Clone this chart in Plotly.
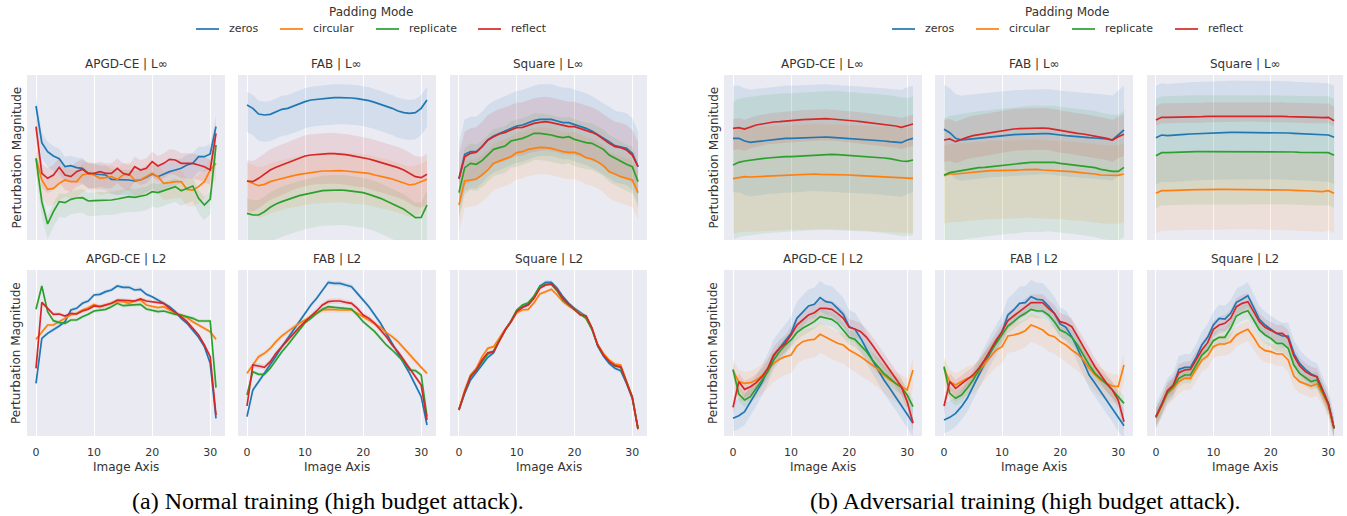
import plotly.graph_objects as go

W, H = 1347, 516

IMAGE_AXIS = list(range(32))
MODES = ["zeros", "circular", "replicate", "reflect"]
COLORS = ["#1f77b4", "#ff7f0e", "#2ca02c", "#d62728"]
FILLS = ["rgba(31,119,180,0.11)", "rgba(255,127,14,0.11)",
         "rgba(44,160,44,0.10)", "rgba(214,39,40,0.11)"]
X_TICKS = [0, 10, 20, 30]
ATTACKS = ["APGD-CE", "FAB", "Square"]
NORMS = ["L∞", "L2"]
CAPTIONS = ["(a) Normal training (high budget attack).",
            "(b) Adversarial training (high budget attack)."]

# ---------------- (a) Normal training ----------------
A_APGD_LINF_ZEROS = [402, 292, 265, 252, 244, 220, 223, 217, 215, 200, 198, 197, 195, 182, 182, 180, 180, 177, 180, 188, 198, 190, 198, 205, 210, 215, 225, 230, 250, 250, 258, 340]
A_APGD_LINF_CIRCULAR = [245, 180, 152, 155, 170, 180, 175, 175, 195, 200, 195, 185, 187, 190, 182, 195, 198, 180, 180, 190, 200, 190, 170, 172, 175, 175, 152, 150, 160, 175, 210, 230]
A_APGD_LINF_REPLICATE = [245, 115, 48, 85, 115, 112, 122, 126, 127, 117, 118, 118, 120, 120, 123, 126, 130, 128, 132, 135, 145, 142, 148, 155, 160, 148, 155, 162, 125, 105, 123, 285]
A_APGD_LINF_REFLECT = [340, 200, 185, 195, 218, 195, 190, 205, 212, 200, 200, 205, 200, 200, 215, 200, 195, 220, 210, 215, 235, 222, 230, 242, 240, 230, 230, 230, 225, 220, 210, 320]
A_APGD_LINF_BAND_UP = [30, 35, 25, 30]
A_APGD_LINF_BAND_DOWN = [45, 50, 45, 45]

A_FAB_LINF_ZEROS = [405, 395, 378, 375, 377, 385, 392, 395, 402, 407, 415, 420, 422, 424, 425, 427, 427, 427, 426, 424, 422, 418, 413, 407, 402, 395, 387, 382, 380, 382, 395, 420]
A_FAB_LINF_CIRCULAR = [177, 170, 163, 167, 175, 180, 185, 190, 193, 197, 200, 203, 205, 207, 207, 208, 208, 207, 205, 203, 202, 200, 195, 190, 187, 183, 177, 170, 165, 168, 175, 182]
A_FAB_LINF_REPLICATE = [80, 75, 75, 85, 98, 108, 115, 120, 127, 133, 137, 142, 145, 148, 149, 150, 150, 149, 147, 144, 142, 137, 132, 125, 117, 108, 100, 92, 80, 67, 68, 105]
A_FAB_LINF_REFLECT = [177, 175, 185, 198, 210, 218, 225, 233, 240, 247, 252, 255, 257, 258, 259, 259, 258, 256, 253, 250, 248, 243, 238, 233, 229, 223, 217, 210, 200, 190, 187, 197]
A_FAB_LINF_BAND_UP = [40, 55, 45, 62]
A_FAB_LINF_BAND_DOWN = [80, 95, 105, 90]

A_SQUARE_LINF_ZEROS = [185, 257, 265, 265, 280, 300, 312, 320, 327, 335, 342, 345, 352, 358, 362, 362, 362, 357, 352, 352, 347, 340, 335, 327, 317, 307, 295, 283, 280, 275, 260, 220]
A_SQUARE_LINF_CIRCULAR = [105, 177, 180, 183, 195, 210, 230, 237, 242, 250, 262, 265, 272, 275, 278, 277, 275, 270, 265, 263, 263, 257, 247, 243, 235, 223, 205, 198, 190, 185, 180, 142]
A_SQUARE_LINF_REPLICATE = [142, 217, 230, 227, 238, 255, 272, 277, 282, 297, 300, 305, 312, 320, 320, 318, 315, 310, 307, 310, 302, 297, 292, 290, 282, 272, 255, 245, 235, 227, 220, 175]
A_SQUARE_LINF_REFLECT = [183, 250, 260, 263, 280, 300, 310, 318, 323, 330, 337, 338, 345, 350, 353, 355, 352, 348, 342, 340, 340, 335, 330, 323, 315, 302, 290, 280, 277, 270, 255, 220]
A_SQUARE_LINF_BAND_UP = [105, 60, 60, 75]
A_SQUARE_LINF_BAND_DOWN = [110, 80, 80, 85]

A_APGD_L2_ZEROS = [158, 293, 308, 318, 330, 343, 378, 383, 398, 405, 423, 425, 433, 438, 450, 446, 446, 438, 440, 425, 418, 408, 398, 388, 373, 353, 338, 318, 296, 268, 218, 53]
A_APGD_L2_CIRCULAR = [290, 313, 333, 333, 343, 353, 363, 368, 378, 385, 395, 388, 393, 398, 403, 403, 398, 405, 408, 393, 390, 385, 388, 378, 368, 363, 355, 343, 333, 323, 313, 290]
A_APGD_L2_REPLICATE = [380, 450, 373, 346, 340, 338, 348, 348, 358, 365, 375, 378, 380, 388, 398, 391, 393, 393, 395, 381, 378, 373, 375, 370, 365, 363, 358, 353, 345, 345, 345, 145]
A_APGD_L2_REFLECT = [203, 401, 383, 365, 366, 360, 368, 366, 375, 380, 390, 388, 393, 398, 408, 406, 406, 405, 411, 405, 403, 400, 398, 383, 371, 358, 343, 323, 303, 273, 238, 63]
A_APGD_L2_BAND_UP = [6, 6, 6, 6]
A_APGD_L2_BAND_DOWN = [6, 6, 6, 6]

A_FAB_L2_ZEROS = [58, 138, 163, 188, 213, 240, 268, 293, 318, 343, 368, 393, 413, 438, 461, 458, 458, 453, 448, 428, 408, 388, 363, 338, 308, 278, 248, 218, 188, 153, 118, 33]
A_FAB_L2_CIRCULAR = [188, 213, 238, 248, 263, 283, 300, 313, 326, 338, 348, 358, 368, 378, 380, 378, 378, 378, 378, 368, 358, 348, 338, 326, 310, 298, 283, 263, 243, 223, 206, 188]
A_FAB_L2_REPLICATE = [123, 193, 185, 185, 203, 228, 253, 273, 296, 318, 340, 353, 368, 380, 388, 386, 385, 383, 381, 363, 343, 328, 313, 293, 273, 258, 240, 223, 198, 196, 183, 58]
A_FAB_L2_REFLECT = [90, 213, 210, 206, 223, 248, 268, 288, 308, 326, 343, 358, 375, 393, 403, 405, 405, 401, 398, 383, 363, 353, 338, 318, 298, 273, 253, 228, 203, 178, 153, 48]
A_FAB_L2_BAND_UP = [7, 8, 6, 8]
A_FAB_L2_BAND_DOWN = [7, 8, 6, 8]

A_SQUARE_L2_ZEROS = [78, 128, 168, 190, 213, 236, 250, 288, 318, 343, 373, 386, 396, 418, 450, 461, 461, 443, 418, 398, 383, 370, 358, 323, 270, 240, 218, 203, 196, 158, 113, 21]
A_SQUARE_L2_CIRCULAR = [80, 138, 183, 203, 238, 263, 268, 296, 320, 343, 370, 378, 380, 400, 426, 433, 440, 423, 403, 390, 378, 368, 353, 323, 275, 248, 228, 216, 213, 165, 118, 21]
A_SQUARE_L2_REPLICATE = [80, 133, 180, 198, 223, 246, 255, 288, 318, 345, 378, 393, 400, 420, 448, 455, 455, 435, 408, 393, 378, 366, 353, 320, 273, 243, 223, 210, 206, 163, 118, 21]
A_SQUARE_L2_REFLECT = [78, 133, 178, 198, 228, 250, 253, 288, 318, 343, 373, 386, 393, 413, 443, 453, 456, 438, 413, 396, 380, 363, 361, 325, 273, 243, 223, 211, 208, 163, 115, 21]
A_SQUARE_L2_BAND_UP = [6, 6, 5, 5]
A_SQUARE_L2_BAND_DOWN = [6, 6, 5, 5]

# ---------------- (b) Adversarial training ----------------
B_APGD_LINF_ZEROS = [305, 305, 297, 293, 295, 297, 300, 302, 303, 305, 305, 306, 307, 308, 309, 309, 309, 308, 307, 306, 305, 304, 303, 302, 300, 299, 297, 295, 293, 292, 300, 305]
B_APGD_LINF_CIRCULAR = [184, 188, 190, 189, 190, 191, 192, 193, 194, 195, 196, 196, 197, 198, 198, 197, 197, 197, 196, 195, 195, 194, 193, 193, 192, 191, 190, 189, 187, 186, 186, 185]
B_APGD_LINF_REPLICATE = [225, 233, 237, 240, 242, 244, 246, 248, 249, 250, 250, 251, 253, 255, 255, 256, 256, 257, 256, 255, 254, 253, 252, 251, 250, 248, 246, 244, 240, 237, 236, 240]
B_APGD_LINF_REFLECT = [335, 337, 333, 340, 345, 348, 352, 354, 355, 357, 358, 360, 361, 362, 363, 364, 364, 363, 362, 360, 358, 357, 355, 353, 352, 350, 347, 344, 342, 338, 343, 348]
B_APGD_LINF_BAND_UP = [158, 150, 190, 28]
B_APGD_LINF_BAND_DOWN = [162, 165, 225, 65]

B_FAB_LINF_ZEROS = [332, 322, 305, 300, 302, 304, 306, 308, 310, 312, 313, 315, 316, 317, 318, 318, 318, 319, 319, 318, 315, 313, 311, 309, 308, 307, 306, 305, 303, 300, 315, 330]
B_FAB_LINF_CIRCULAR = [193, 198, 198, 200, 202, 203, 205, 207, 208, 208, 208, 210, 210, 210, 211, 212, 212, 210, 209, 208, 208, 208, 205, 203, 202, 200, 198, 195, 194, 193, 194, 198]
B_FAB_LINF_REPLICATE = [195, 202, 205, 208, 212, 215, 217, 218, 220, 223, 225, 227, 227, 230, 232, 233, 233, 233, 234, 233, 230, 228, 227, 225, 223, 220, 217, 212, 208, 206, 206, 218]
B_FAB_LINF_REFLECT = [300, 303, 295, 302, 308, 313, 316, 318, 322, 325, 327, 330, 333, 334, 335, 336, 336, 336, 335, 332, 327, 325, 322, 320, 318, 315, 312, 308, 305, 300, 310, 317]
B_FAB_LINF_BAND_UP = [133, 90, 170, 60]
B_FAB_LINF_BAND_DOWN = [122, 145, 208, 65]

B_SQUARE_LINF_ZEROS = [307, 315, 313, 315, 316, 317, 318, 319, 320, 321, 322, 322, 323, 323, 323, 323, 323, 323, 322, 322, 322, 322, 321, 321, 320, 319, 318, 317, 316, 316, 315, 308]
B_SQUARE_LINF_CIRCULAR = [140, 148, 148, 149, 149, 150, 150, 151, 151, 152, 152, 152, 152, 152, 152, 152, 152, 152, 151, 151, 151, 150, 150, 150, 149, 149, 148, 147, 146, 145, 148, 140]
B_SQUARE_LINF_REPLICATE = [253, 262, 262, 263, 263, 264, 264, 265, 265, 265, 266, 266, 266, 266, 266, 266, 266, 266, 266, 266, 265, 265, 265, 264, 264, 263, 263, 262, 262, 261, 262, 254]
B_SQUARE_LINF_REFLECT = [360, 368, 368, 368, 369, 369, 370, 370, 370, 371, 371, 371, 372, 372, 373, 373, 373, 373, 373, 372, 372, 371, 371, 370, 370, 369, 369, 368, 368, 367, 368, 358]
B_SQUARE_LINF_BAND_UP = [155, 110, 169, 42]
B_SQUARE_LINF_BAND_DOWN = [140, 120, 158, 18]

B_APGD_L2_ZEROS = [53, 61, 73, 103, 130, 161, 198, 240, 263, 286, 308, 353, 370, 390, 395, 415, 403, 400, 383, 365, 328, 320, 293, 258, 228, 198, 168, 143, 118, 93, 65, 38]
B_APGD_L2_CIRCULAR = [196, 163, 158, 160, 168, 180, 198, 218, 230, 238, 243, 270, 283, 288, 290, 305, 296, 288, 278, 273, 258, 248, 238, 225, 213, 200, 183, 168, 158, 148, 138, 198]
B_APGD_L2_REPLICATE = [200, 126, 108, 118, 143, 168, 193, 228, 253, 273, 288, 310, 323, 333, 343, 358, 353, 350, 338, 318, 296, 290, 273, 253, 228, 208, 188, 173, 158, 146, 123, 88]
B_APGD_L2_REFLECT = [86, 163, 140, 148, 160, 178, 203, 243, 263, 278, 303, 333, 348, 363, 370, 383, 383, 380, 368, 353, 326, 321, 313, 296, 273, 248, 220, 198, 173, 148, 103, 40]
B_APGD_L2_BAND_UP = [50, 35, 22, 25]
B_APGD_L2_BAND_DOWN = [40, 55, 22, 25]

B_FAB_L2_ZEROS = [48, 56, 68, 88, 113, 146, 183, 218, 253, 283, 313, 363, 378, 398, 400, 418, 410, 408, 390, 368, 336, 326, 298, 263, 223, 183, 158, 133, 108, 83, 55, 31]
B_FAB_L2_CIRCULAR = [203, 163, 153, 163, 173, 178, 193, 218, 238, 258, 268, 300, 303, 308, 316, 333, 326, 318, 303, 298, 283, 273, 258, 246, 228, 203, 183, 168, 158, 150, 148, 213]
B_FAB_L2_REPLICATE = [208, 128, 113, 123, 143, 168, 198, 228, 253, 278, 303, 330, 343, 358, 368, 380, 375, 375, 363, 343, 318, 310, 296, 273, 243, 213, 188, 173, 156, 138, 118, 98]
B_FAB_L2_REFLECT = [90, 163, 143, 156, 168, 183, 203, 228, 258, 288, 313, 346, 360, 373, 388, 400, 400, 400, 383, 368, 343, 338, 328, 300, 268, 238, 208, 183, 158, 138, 108, 43]
B_FAB_L2_BAND_UP = [50, 35, 22, 25]
B_FAB_L2_BAND_DOWN = [40, 50, 22, 25]

B_SQUARE_L2_ZEROS = [58, 93, 133, 150, 200, 206, 206, 236, 273, 296, 333, 353, 351, 368, 401, 410, 421, 386, 350, 333, 320, 308, 300, 300, 248, 218, 200, 186, 178, 140, 98, 23]
B_SQUARE_L2_CIRCULAR = [55, 90, 126, 143, 163, 173, 173, 200, 228, 240, 268, 276, 276, 283, 303, 313, 320, 296, 268, 256, 253, 246, 246, 228, 180, 163, 156, 150, 156, 126, 90, 23]
B_SQUARE_L2_REPLICATE = [55, 90, 130, 148, 173, 183, 183, 213, 243, 258, 286, 296, 296, 323, 360, 370, 376, 348, 318, 303, 293, 278, 278, 263, 213, 188, 176, 163, 168, 133, 96, 23]
B_SQUARE_L2_REFLECT = [58, 93, 136, 153, 190, 198, 200, 228, 258, 280, 320, 333, 338, 353, 388, 398, 403, 373, 343, 326, 316, 308, 308, 293, 240, 211, 193, 183, 178, 138, 96, 23]
B_SQUARE_L2_BAND_UP = [40, 25, 25, 25]
B_SQUARE_L2_BAND_DOWN = [35, 35, 25, 25]

# panel table: (group, row, col, series, band above, band below)
PANELS = [
    (0, 0, 0, [A_APGD_LINF_ZEROS, A_APGD_LINF_CIRCULAR, A_APGD_LINF_REPLICATE, A_APGD_LINF_REFLECT], A_APGD_LINF_BAND_UP, A_APGD_LINF_BAND_DOWN),
    (0, 0, 1, [A_FAB_LINF_ZEROS, A_FAB_LINF_CIRCULAR, A_FAB_LINF_REPLICATE, A_FAB_LINF_REFLECT], A_FAB_LINF_BAND_UP, A_FAB_LINF_BAND_DOWN),
    (0, 0, 2, [A_SQUARE_LINF_ZEROS, A_SQUARE_LINF_CIRCULAR, A_SQUARE_LINF_REPLICATE, A_SQUARE_LINF_REFLECT], A_SQUARE_LINF_BAND_UP, A_SQUARE_LINF_BAND_DOWN),
    (0, 1, 0, [A_APGD_L2_ZEROS, A_APGD_L2_CIRCULAR, A_APGD_L2_REPLICATE, A_APGD_L2_REFLECT], A_APGD_L2_BAND_UP, A_APGD_L2_BAND_DOWN),
    (0, 1, 1, [A_FAB_L2_ZEROS, A_FAB_L2_CIRCULAR, A_FAB_L2_REPLICATE, A_FAB_L2_REFLECT], A_FAB_L2_BAND_UP, A_FAB_L2_BAND_DOWN),
    (0, 1, 2, [A_SQUARE_L2_ZEROS, A_SQUARE_L2_CIRCULAR, A_SQUARE_L2_REPLICATE, A_SQUARE_L2_REFLECT], A_SQUARE_L2_BAND_UP, A_SQUARE_L2_BAND_DOWN),
    (1, 0, 0, [B_APGD_LINF_ZEROS, B_APGD_LINF_CIRCULAR, B_APGD_LINF_REPLICATE, B_APGD_LINF_REFLECT], B_APGD_LINF_BAND_UP, B_APGD_LINF_BAND_DOWN),
    (1, 0, 1, [B_FAB_LINF_ZEROS, B_FAB_LINF_CIRCULAR, B_FAB_LINF_REPLICATE, B_FAB_LINF_REFLECT], B_FAB_LINF_BAND_UP, B_FAB_LINF_BAND_DOWN),
    (1, 0, 2, [B_SQUARE_LINF_ZEROS, B_SQUARE_LINF_CIRCULAR, B_SQUARE_LINF_REPLICATE, B_SQUARE_LINF_REFLECT], B_SQUARE_LINF_BAND_UP, B_SQUARE_LINF_BAND_DOWN),
    (1, 1, 0, [B_APGD_L2_ZEROS, B_APGD_L2_CIRCULAR, B_APGD_L2_REPLICATE, B_APGD_L2_REFLECT], B_APGD_L2_BAND_UP, B_APGD_L2_BAND_DOWN),
    (1, 1, 1, [B_FAB_L2_ZEROS, B_FAB_L2_CIRCULAR, B_FAB_L2_REPLICATE, B_FAB_L2_REFLECT], B_FAB_L2_BAND_UP, B_FAB_L2_BAND_DOWN),
    (1, 1, 2, [B_SQUARE_L2_ZEROS, B_SQUARE_L2_CIRCULAR, B_SQUARE_L2_REPLICATE, B_SQUARE_L2_REFLECT], B_SQUARE_L2_BAND_UP, B_SQUARE_L2_BAND_DOWN),
]

# ---------------- layout geometry (pixels) ----------------
PANEL_X = [[(27, 225), (238, 436), (450, 647)], [(724, 922), (935, 1133), (1147, 1343)]]
ROW_Y = [(75, 240), (270, 436)]
Y_RANGES = [[0, 495], [0, 498]]
X_RANGE = [-1.55, 32.55]

FONT = "DejaVu Sans"
TXT = "#333333"


def fx(px):
    return px / W


def fy(py):
    return 1 - py / H


fig = go.Figure()
layout = dict(
    width=W, height=H, margin=dict(l=0, r=0, t=0, b=0),
    paper_bgcolor="white", plot_bgcolor="#EAEAF2",
    showlegend=False, font=dict(family=FONT, size=12, color=TXT),
)
annotations = []
shapes = []

for idx, (g, r, c, series, band_up, band_down) in enumerate(PANELS):
    n = idx + 1
    xa = "x" if n == 1 else f"x{n}"
    ya = "y" if n == 1 else f"y{n}"
    x0, x1 = PANEL_X[g][c]
    y0, y1 = ROW_Y[r]
    layout["xaxis" if n == 1 else f"xaxis{n}"] = dict(
        domain=[fx(x0), fx(x1)], range=X_RANGE, anchor=ya,
        tickvals=X_TICKS, showticklabels=(r == 1),
        ticks="outside" if r == 1 else "", ticklen=6, tickcolor="rgba(0,0,0,0)",
        tickfont=dict(size=11, color=TXT),
        showgrid=True, gridcolor="white", gridwidth=1.2,
        zeroline=False, showline=False, fixedrange=True,
    )
    layout["yaxis" if n == 1 else f"yaxis{n}"] = dict(
        domain=[fy(y1), fy(y0)], range=Y_RANGES[r], anchor=xa,
        showticklabels=False, showgrid=False, zeroline=False, showline=False,
        fixedrange=True,
    )
    # error bands first (beneath all lines)
    for i, vals in enumerate(series):
        upper = [v + band_up[i] for v in vals]
        lower = [v - band_down[i] for v in vals]
        fig.add_trace(go.Scatter(
            x=IMAGE_AXIS + IMAGE_AXIS[::-1], y=upper + lower[::-1],
            fill="toself", fillcolor=FILLS[i], line=dict(width=0),
            mode="lines", hoverinfo="skip", xaxis=xa, yaxis=ya,
        ))
    for i, vals in enumerate(series):
        fig.add_trace(go.Scatter(
            x=IMAGE_AXIS, y=vals, mode="lines", name=MODES[i],
            line=dict(color=COLORS[i], width=1.7), xaxis=xa, yaxis=ya,
        ))
    # subplot title
    annotations.append(dict(
        text=f"{ATTACKS[c]} | {NORMS[r]}", x=fx((x0 + x1) / 2), y=fy(y0 - 11),
        xref="paper", yref="paper", showarrow=False,
        font=dict(size=12, color=TXT), xanchor="center", yanchor="middle",
    ))
    if c == 0:
        annotations.append(dict(
            text="Perturbation Magnitude", textangle=-90,
            x=fx(x0 - 11), y=fy((y0 + y1) / 2),
            xref="paper", yref="paper", showarrow=False,
            font=dict(size=12, color=TXT), xanchor="center", yanchor="middle",
        ))
    if r == 1:
        annotations.append(dict(
            text="Image Axis", x=fx((x0 + x1) / 2), y=fy(467),
            xref="paper", yref="paper", showarrow=False,
            font=dict(size=12, color=TXT), xanchor="center", yanchor="middle",
        ))

# legends (one per group)
LEGEND_TITLE_X = [371, 1067]
LEGEND_LINE_X = [[196, 280, 376, 478], [892, 976, 1072, 1175]]
for g in range(2):
    annotations.append(dict(
        text="Padding Mode", x=fx(LEGEND_TITLE_X[g]), y=fy(12),
        xref="paper", yref="paper", showarrow=False,
        font=dict(size=12, color=TXT), xanchor="center", yanchor="middle",
    ))
    for i, m in enumerate(MODES):
        lx = LEGEND_LINE_X[g][i]
        shapes.append(dict(
            type="line", xref="paper", yref="paper",
            x0=fx(lx), x1=fx(lx + 23), y0=fy(29), y1=fy(29),
            line=dict(color=COLORS[i], width=1.7),
        ))
        annotations.append(dict(
            text=m, x=fx(lx + 31), y=fy(29), xref="paper", yref="paper",
            showarrow=False, font=dict(size=11, color=TXT),
            xanchor="left", yanchor="middle",
        ))

# captions
CAPTION_X = [328, 1025]
for g in range(2):
    annotations.append(dict(
        text=CAPTIONS[g], x=fx(CAPTION_X[g]), y=fy(501),
        xref="paper", yref="paper", showarrow=False,
        font=dict(family="Liberation Serif", size=24, color="black"),
        xanchor="center", yanchor="middle",
    ))

layout["annotations"] = annotations
layout["shapes"] = shapes
fig.update_layout(**layout)
fig.write_html(
    "out.html",
    config={"displayModeBar": False},
    post_script="document.body.style.margin='0';document.body.style.padding='0';",
)
